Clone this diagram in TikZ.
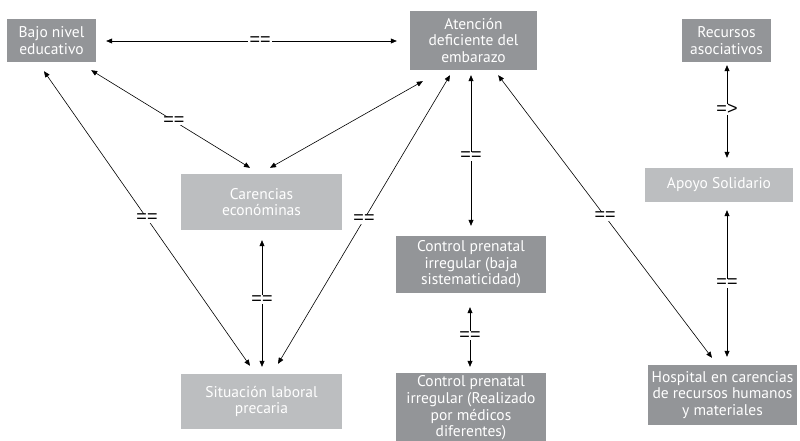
\documentclass[tikz,border=0pt]{standalone}
\usepackage{fontspec}
\setmainfont{PT Sans}
\newfontfamily\eqfont{Liberation Sans}
\usetikzlibrary{calc,arrows.meta}
\definecolor{darkbox}{RGB}{147,149,152}
\definecolor{lightbox}{RGB}{188,190,192}
\tikzset{
  box/.style={fill=#1, text=white, align=center, inner sep=0pt,
    font=\fontsize{15.5}{16.6}\selectfont},
  dbox/.style={box=darkbox},
  lbox/.style={box=lightbox},
  link/.style={line width=0.6pt, {Triangle[length=6pt,width=5pt]}-{Triangle[length=6pt,width=5pt]}},
  eq/.style={fill=white, inner xsep=1.5pt, inner ysep=0pt, font=\eqfont\fontsize{18}{18}\selectfont}
}
\begin{document}
\begin{tikzpicture}[x=1pt,y=-1pt]
\clip (0,0) rectangle (800,441);
\fill[white] (0,0) rectangle (800,441);
\node[dbox, minimum width=89pt, minimum height=43pt] (bajo) at (51.5,40.5) {Bajo nivel\\educativo};
\node[dbox, minimum width=127pt, minimum height=59pt] (aten) at (473.5,40.5) {Atención\\deficiente del\\embarazo};
\node[dbox, minimum width=89pt, minimum height=43pt] (recur) at (726.5,40.5) {Recursos\\asociativos};
\node[lbox, minimum width=148pt, minimum height=34pt] (apoyo) at (719,185) {Apoyo Solidario};
\node[lbox, minimum width=161pt, minimum height=56pt] (caren) at (261.5,202) {Carencias\\económinas};
\node[lbox, minimum width=161pt, minimum height=55pt] (situ) at (261.5,401.5) {Situación laboral\\precaria};
\node[dbox, minimum width=150pt, minimum height=57pt] (cbaja) at (471,264.5) {Control prenatal\\irregular (baja\\sistematicidad)};
\node[dbox, minimum width=150pt, minimum height=70pt] (creal) at (471,408) {Control prenatal\\irregular (Realizado\\por médicos\\diferentes)};
\node[dbox, minimum width=149pt, minimum height=60pt] (hosp) at (722.5,395) {Hospital en carencias\\de recursos humanos\\y materiales};

\draw[link] ($(bajo.east)+(10,0.5)$) -- node[eq, pos=0.53] {==} ($(aten.west)+(-13,0.5)$);
\draw[link] ($(bajo.south east)+(-5,8)$) -- node[eq, pos=0.52] {==} ($(caren.north)+(-11.5,-6)$);
\draw[link] ($(bajo.south)+(-7.5,9)$) -- node[eq, pos=0.5] {==} ($(situ.north)+(-11.5,-8)$);
\draw[link] ($(aten.south west)+(13,11)$) -- ($(caren.north)+(8.5,-6)$);
\draw[link] ($(aten.south)+(-23.5,5)$) -- node[eq, pos=0.5] {==} ($(situ.north)+(16.5,-10)$);
\draw[link] ($(caren.south)+(0.5,10)$) -- node[eq, pos=0.47] {==} ($(situ.north)+(0.5,-7)$);
\draw[link] ($(aten.south)+(-2.5,5)$) -- node[eq, pos=0.54] {==} ($(cbaja.north)+(0,-10)$);
\draw[link] ($(aten.south east)+(-39,5)$) -- node[eq, pos=0.5] {==} ($(hosp.north)+(-10.5,-7)$);
\draw[link] ($(recur.south)+(0.5,3)$) -- node[eq, pos=0.48] {=>} ($(apoyo.north)+(8,-10)$);
\draw[link] ($(apoyo.south)+(8,8)$) -- node[eq, pos=0.5] {==} ($(hosp.north)+(4.5,-8)$);
\draw[link] ($(cbaja.south)+(-1,14)$) -- node[eq, pos=0.48] {==} ($(creal.north)+(-1,-6)$);
\end{tikzpicture}
\end{document}
